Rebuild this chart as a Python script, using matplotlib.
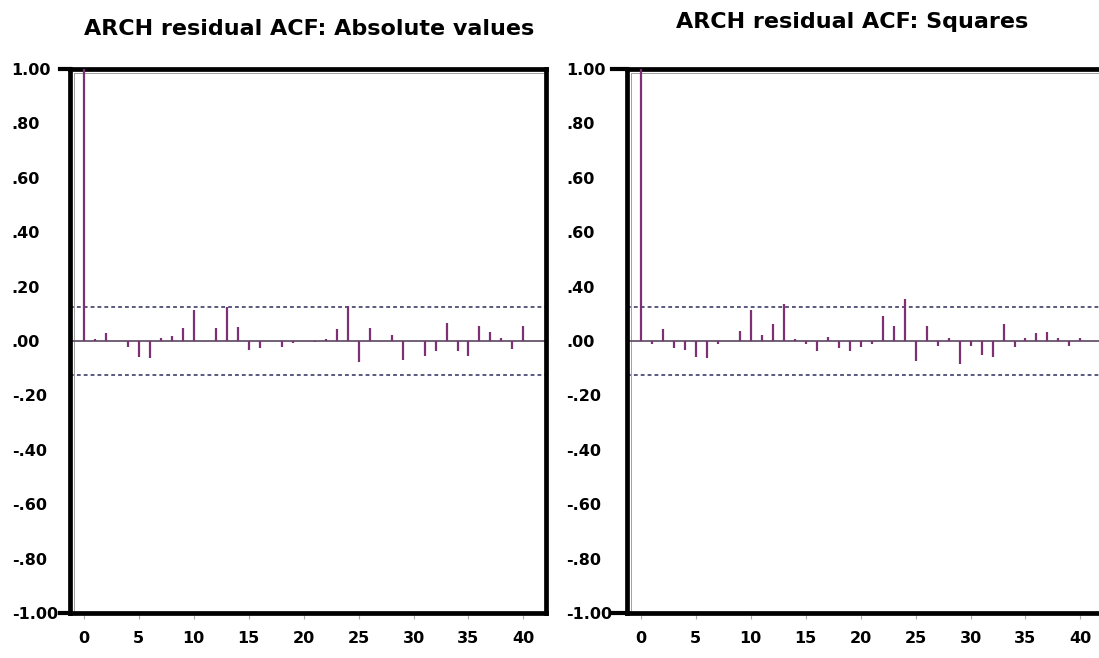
import numpy as np
import matplotlib
matplotlib.use("Agg")
import matplotlib.pyplot as plt

plt.rcParams['font.family'] = ['DejaVu Sans']

lags = list(range(0, 41))
acf_abs = [1.0, 0.009, 0.028, 0.0, -0.021, -0.059, -0.064, 0.010, 0.018, 0.047,
           0.113, 0.0, 0.047, 0.125, 0.052, -0.032, -0.027, 0.0, -0.022, -0.009,
           0.0, -0.003, 0.006, 0.043, 0.128, -0.077, 0.047, 0.0, 0.022, -0.069,
           0.0, -0.054, -0.036, 0.065, -0.036, -0.054, 0.055, 0.033, 0.010, -0.031,
           0.055]
acf_sq = [1.0, -0.012, 0.043, -0.027, -0.032, -0.059, -0.064, -0.012, 0.0, 0.037,
          0.113, 0.022, 0.061, 0.135, 0.009, -0.012, -0.036, 0.015, -0.027, -0.036,
          -0.022, -0.012, 0.092, 0.055, 0.155, -0.074, 0.055, -0.017, 0.010, -0.084,
          -0.018, -0.050, -0.060, 0.061, -0.022, 0.010, 0.028, 0.033, 0.010, -0.018,
          0.010]
conf_band = 0.125

titles = ["ARCH residual ACF: Absolute values", "ARCH residual ACF: Squares"]
yticks = [1.0, 0.8, 0.6, 0.4, 0.2, 0.0, -0.2, -0.4, -0.6, -0.8, -1.0]
ylabels_left = ["1.00", ".80", ".60", ".40", ".20", ".00", "-.20", "-.40", "-.60", "-.80", "-1.00"]
ylabels_right = ["1.00", ".80", ".60", ".60", ".40", ".00", "-.20", "-.40", "-.60", "-.80", "-1.00"]
xticks = list(range(0, 41, 5))

W, H = 1099, 658
fig = plt.figure(figsize=(W / 100, H / 100), dpi=100)

spike_color = '#7d3074'
zero_color = '#5a4660'
dash_color = '#2e2e5e'

def make_panel(left_px, values, ylabels, title, title_x, title_base, label_pad, stub):
    ax = fig.add_axes([left_px / W, (H - 613) / H, 476 / W, 544 / H])
    ax.set_xlim(-1.25, 42.05)
    ax.set_ylim(-1.0, 1.0)
    ax.vlines(lags, 0, values, colors=spike_color, linewidth=1.6, zorder=3)
    ax.axhline(0, color=zero_color, linewidth=1.2, zorder=2)
    ax.axhline(conf_band, color=dash_color, linewidth=1.1, linestyle=(0, (2.5, 2)), zorder=2)
    ax.axhline(-conf_band, color=dash_color, linewidth=1.1, linestyle=(0, (2.5, 2)), zorder=2)
    for s in ax.spines.values():
        s.set_linewidth(3.4)
        s.set_color('black')
    # extended tick stubs at +-1
    ax.axhline(1.0, xmin=-stub, xmax=0.0, color='black', linewidth=3.0, clip_on=False)
    ax.axhline(-1.0, xmin=-stub, xmax=0.0, color='black', linewidth=3.0, clip_on=False)
    # inner gray lines
    ax.plot([0.008, 1], [0.9925, 0.9925], transform=ax.transAxes, color='#a0a0a0', lw=0.7, zorder=1)
    ax.plot([0.008, 0.008], [0, 0.9925], transform=ax.transAxes, color='#a0a0a0', lw=0.7, zorder=1)
    ax.set_yticks(yticks)
    ax.set_yticklabels(ylabels, fontsize=11.5, fontweight='bold', ha='left')
    ax.tick_params(axis='y', length=0, pad=label_pad)
    ax.set_xticks(xticks)
    ax.set_xticklabels([str(t) for t in xticks], fontsize=11.5, fontweight='bold')
    ax.tick_params(axis='x', length=4, width=0.8, color='#aaaaaa', pad=9)
    fig.text(title_x / W, 1 - title_base / H, title, ha='center', va='baseline',
             fontsize=16, fontweight='bold')
    return ax

make_panel(70, acf_abs, ylabels_left, titles[0], 309, 35, 42, 0.021)
make_panel(627, acf_sq, ylabels_right, titles[1], 852, 28, 44, 0.031)

fig.savefig('out.png', dpi=100)
